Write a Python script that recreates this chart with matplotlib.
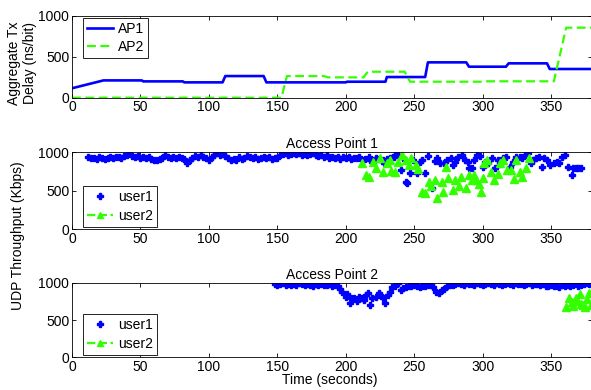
import numpy as np
import matplotlib
matplotlib.use("Agg")
import matplotlib.pyplot as plt
from matplotlib.lines import Line2D

plt.rcParams['font.family'] = ['Liberation Sans', 'DejaVu Sans']
plt.rcParams['font.size'] = 10

BLUE = '#0000ff'
GREEN = '#33ff00'

# aggregate tx delay (ns/bit)
ap1_t = [0, 23, 51, 52, 81, 82, 110, 112, 140, 142, 200, 201, 229, 230, 258, 260,
         288, 290, 317, 319, 347, 349, 380]
ap1_v = [115, 211, 211, 199, 199, 187, 187, 264, 264, 187, 187, 195, 195, 252, 252, 431,
         431, 378, 378, 419, 419, 350, 350]
ap2_t = [0, 153, 157, 184, 187, 213, 216, 243, 247, 300, 303, 352, 361, 380]
ap2_v = [0, 0, 264, 264, 248, 248, 317, 317, 195, 195, 200, 200, 854, 854]

# access point 1 throughput (Kbps)
ap1_u1_t = [12, 14, 16, 18, 20, 22, 24, 26, 28, 30,
            32, 34, 36, 38, 40, 42, 44, 46, 48, 50,
            52, 54, 56, 58, 60, 62, 64, 66, 68, 70,
            72, 74, 76, 78, 80, 82, 84, 86, 88, 90,
            92, 94, 96, 98, 100, 102, 104, 106, 108, 110,
            112, 114, 116, 118, 120, 122, 124, 126, 128, 130,
            132, 134, 136, 138, 140, 142, 144, 146, 148, 150,
            152, 154, 156, 158, 160, 162, 164, 166, 168, 170,
            172, 174, 176, 178, 180, 182, 184, 186, 188, 190,
            192, 194, 196, 198, 200, 202, 204, 206,
            208, 210, 212, 214, 217, 218, 220, 222, 224, 227,
            228, 230, 232, 235, 236, 238, 240, 242, 244, 245,
            247, 249, 252, 254, 256, 258, 260, 263, 265, 267,
            269, 272, 274, 277, 278, 280, 282, 285, 287, 289,
            290, 292, 294, 296, 298, 300, 302, 304, 307, 309,
            311, 313, 315, 317, 320, 322, 324, 327, 329, 331,
            333, 335, 337, 339, 341, 343, 345, 347, 349, 352,
            354, 356, 358, 360, 362, 365, 366, 368, 370, 372]
ap1_u1_v = [935, 920, 930, 915, 935, 925, 910, 930, 940, 920,
            935, 945, 925, 950, 960, 985, 955, 935, 950, 930,
            945, 925, 935, 915, 900, 895, 910, 930, 960, 940,
            925, 945, 930, 940, 925, 915, 860, 905, 930, 955,
            940, 965, 935, 925, 900, 945, 970, 985, 965, 975,
            950, 925, 905, 915, 900, 935, 910, 930, 955, 935,
            920, 940, 910, 930, 945, 925, 935, 910, 930, 920,
            960, 975, 985, 970, 980, 990, 975, 985, 970, 980,
            965, 975, 985, 960, 955, 965, 945, 960, 930, 945,
            920, 935, 915, 940, 925, 935, 910, 920,
            922, 935, 900, 915, 943, 900, 880, 925, 910, 900,
            857, 915, 922, 943, 960, 965, 770, 930, 619, 597,
            727, 900, 727, 880, 900, 727, 950, 530, 890, 922,
            857, 857, 900, 922, 835, 878, 940, 965, 900, 878,
            792, 792, 900, 965, 950, 814, 878, 860, 922, 792,
            900, 850, 922, 945, 814, 880, 935, 943, 922, 965,
            985, 857, 900, 922, 943, 814, 922, 900, 835, 857,
            880, 857, 943, 965, 814, 705, 792, 800, 792, 792]
ap1_u2_t = [212, 215, 217, 220, 222, 225, 227, 230, 232, 233,
            236, 238, 241, 244, 246, 248, 251, 253, 256, 258,
            261, 262, 265, 267, 270, 271, 273, 275, 278, 280,
            283, 284, 288, 290, 292, 294, 295, 297, 299, 300,
            301, 303, 306, 308, 311, 313, 315, 318, 321, 323,
            324, 327, 329, 332, 334]
ap1_u2_v = [857, 700, 684, 878, 800, 922, 749, 857, 900, 760,
            749, 870, 965, 900, 835, 930, 835, 780, 489, 467,
            619, 560, 640, 402, 619, 480, 814, 662, 510, 640,
            560, 684, 532, 700, 640, 705, 640, 590, 489, 662,
            857, 900, 749, 640, 720, 860, 900, 770, 770, 650,
            900, 749, 684, 792, 922]

# access point 2 throughput (Kbps)
ap2_u1_t = [148, 150, 152, 154, 156, 158, 160, 162, 164, 166,
            168, 170, 172, 174, 176, 178, 180, 182, 184, 186,
            188, 190, 192, 194, 196, 197, 200, 201, 203, 204,
            206, 208, 210, 212, 213, 215, 216, 218, 219, 222,
            224, 225, 227, 229, 231, 232, 234, 236, 238, 240,
            242, 244, 246, 248, 250, 252, 254, 256, 258, 260,
            262, 264, 266, 268, 270, 272, 274, 276, 278, 280,
            282, 284, 286, 288, 290, 292, 294, 296, 298, 300,
            302, 304, 306, 308, 310, 312, 314, 316, 318, 320,
            322, 324, 326, 328, 330, 332, 334, 336, 338, 340,
            342, 344, 346, 348, 350, 352, 354, 356, 358, 360,
            362, 364, 366, 367, 370, 372, 374, 376, 378]
ap2_u1_v = [985, 970, 980, 990, 975, 980, 965, 985, 975, 990,
            980, 970, 985, 975, 960, 980, 970, 985, 975, 965,
            980, 960, 975, 950, 920, 878, 812, 850, 722, 790,
            790, 760, 812, 790, 767, 830, 856, 700, 790, 812,
            856, 830, 790, 722, 833, 870, 945, 960, 990, 900,
            935, 945, 960, 950, 965, 955, 940, 960, 950, 965,
            967, 940, 880, 856, 900, 922, 950, 967, 975, 980,
            990, 985, 975, 990, 980, 985, 970, 990, 985, 975,
            985, 990, 980, 975, 990, 985, 970, 980, 990, 985,
            975, 990, 985, 980, 970, 985, 990, 975, 985, 980,
            975, 985, 960, 955, 965, 950, 960, 945, 970, 955,
            965, 950, 975, 995, 960, 970, 980, 990, 985]
ap2_u2_t = [361, 363, 365, 366, 368, 369, 371, 372, 373, 375, 376, 378, 379]
ap2_u2_v = [680, 790, 740, 690, 800, 760, 850, 720, 700, 680, 780, 860, 700]

xticks = [0, 50, 100, 150, 200, 250, 300, 350]
yticks = [0, 500, 1000]

W, H = 591, 390
fig = plt.figure(figsize=(W / 100, H / 100), dpi=100)


def make_axes(top_px, bot_px):
    left = 72 / W
    ax = fig.add_axes([left, 1 - bot_px / H, 1.002 - left, (bot_px - top_px) / H])
    ax.set_xlim(0, 380)
    ax.set_ylim(0, 1000)
    ax.set_xticks(xticks)
    ax.set_yticks(yticks)
    ax.tick_params(direction='in', length=3, width=0.6, top=True, right=True, pad=2)
    for s in ax.spines.values():
        s.set_linewidth(0.6)
    return ax


ax1 = make_axes(15.7, 97.7)
ax2 = make_axes(152.3, 229.3)
ax3 = make_axes(282.7, 357.3)

ax1.plot(ap1_t, ap1_v, color=BLUE, lw=1.9, label='AP1')
ax1.plot(ap2_t, ap2_v, color=GREEN, lw=1.6, ls=(0, (4, 2)), label='AP2')
ax1.legend(loc='upper left', bbox_to_anchor=(0.021, 0.972), borderaxespad=0,
           fancybox=False, edgecolor='black', framealpha=1, handlelength=1.9,
           handletextpad=0.3, labelspacing=0.3, borderpad=0.3).get_frame().set_linewidth(0.6)

user_handles = [Line2D([], [], color=BLUE, ls='none', marker='P', ms=4.5),
                Line2D([], [], color=GREEN, ls='--', lw=1.6, marker='^', ms=5)]

for ax, u1t, u1v, u2t, u2v, title in [
        (ax2, ap1_u1_t, ap1_u1_v, ap1_u2_t, ap1_u2_v, 'Access Point 1'),
        (ax3, ap2_u1_t, ap2_u1_v, ap2_u2_t, ap2_u2_v, 'Access Point 2')]:
    ax.plot(u1t, u1v, ls='none', marker='P', ms=4.5, color=BLUE, mec=BLUE)
    ax.plot(u2t, u2v, ls='none', marker='^', ms=5.5, color=GREEN, mec=GREEN)
    ax.set_title(title, fontsize=10, pad=3)
    leg = ax.legend(user_handles, ['user1', 'user2'], loc='lower left',
                    bbox_to_anchor=(0.021, 0.033), borderaxespad=0, fancybox=False,
                    edgecolor='black', framealpha=1, handlelength=1.9,
                    handletextpad=0.3, labelspacing=0.35, borderpad=0.3)
    leg.get_frame().set_linewidth(0.6)

fig.text(22 / W, 1 - 63 / H, 'Aggregate Tx\nDelay (ns/bit)', rotation=90,
         ha='center', va='center', fontsize=10, linespacing=1.1)
fig.text(18 / W, 1 - 236 / H, 'UDP Throughput (Kbps)', rotation=90,
         ha='center', va='center', fontsize=10)
fig.text(330 / W, 1 - 380 / H, 'Time (seconds)', ha='center', va='center', fontsize=10)

fig.savefig('out.png', dpi=100)
